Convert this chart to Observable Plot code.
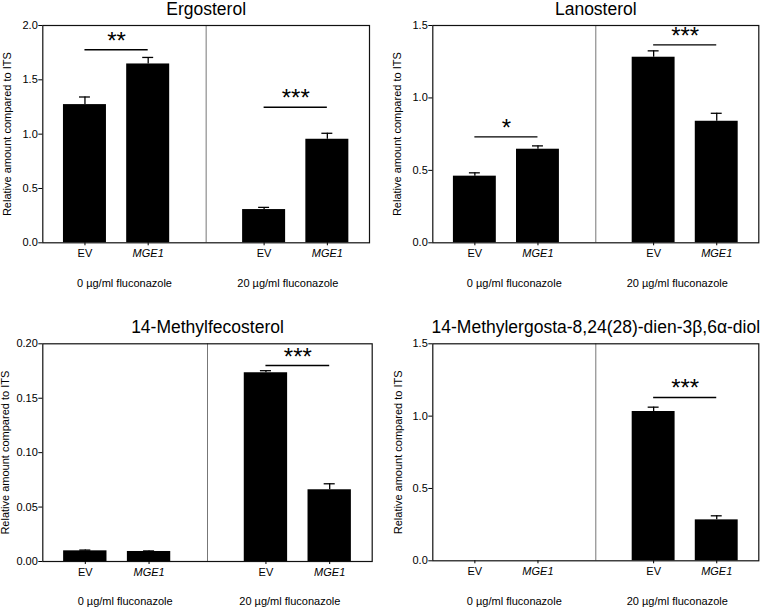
<!DOCTYPE html>
<html><head><meta charset="utf-8">
<script src="https://cdn.jsdelivr.net/npm/d3@7"></script>
<script src="https://cdn.jsdelivr.net/npm/@observablehq/plot@0.6"></script>
<style>
body{margin:0;background:#fff;}
#wrap{position:relative;width:760px;height:607px;overflow:hidden;background:#fff;}
.panel{position:absolute;}
.panel svg{overflow:visible;}
</style></head><body><div id="wrap"></div>
<script>
const conditions = ["0 µg/ml fluconazole", "20 µg/ml fluconazole"];
const strains = ["EV", "MGE1"];
const titles = ["Ergosterol", "Lanosterol", "14-Methylfecosterol", "14-Methylergosta-8,24(28)-dien-3β,6α-diol"];
const yLabel = "Relative amount compared to ITS";

// order: EV 0 µg/ml, MGE1 0 µg/ml, EV 20 µg/ml, MGE1 20 µg/ml
const ergosterolMean = [1.272, 1.646, 0.306, 0.953];
const ergosterolSem = [0.07, 0.06, 0.02, 0.055];
const lanosterolMean = [0.460, 0.646, 1.281, 0.839];
const lanosterolSem = [0.023, 0.023, 0.044, 0.055];
const methylfecosterolMean = [0.0098, 0.0092, 0.1734, 0.0659];
const methylfecosterolSem = [0.0007, 0.0005, 0.0019, 0.0055];
const diolMean = [0, 0, 1.032, 0.283];
const diolSem = [0, 0, 0.030, 0.028];

const yTicksA = [0, 0.5, 1.0, 1.5, 2.0];
const yTicksB = [0, 0.5, 1.0, 1.5];
const yTicksC = [0, 0.05, 0.10, 0.15, 0.20];

// significance bars: condition index, bar level, stars
const ergosterolSig = [{cond: 0, level: 1.777, stars: "**"}, {cond: 1, level: 1.248, stars: "***"}];
const lanosterolSig = [{cond: 0, level: 0.731, stars: "*"}, {cond: 1, level: 1.366, stars: "***"}];
const methylfecosterolSig = [{cond: 1, level: 0.180, stars: "***"}];
const diolSig = [{cond: 1, level: 1.129, stars: "***"}];

const FONT = "'Liberation Sans', Arial, Helvetica, sans-serif";
// layout in x units
const pos = (c, s) => c * 4.25 + s * 1.5 + 1;
const X_MAX = 7.75, DIVIDER = 3.875, HALF = 0.51, CAP = 0.13;

const panels = [
  {title: titles[0], mean: ergosterolMean, sem: ergosterolSem, ticks: yTicksA, fmt: ".1f", sig: ergosterolSig,
   left: 0, top: 0, w: 380, h: 300, m: [25, 11, 57.7, 42.3], lo: 39.3},
  {title: titles[1], mean: lanosterolMean, sem: lanosterolSem, ticks: yTicksB, fmt: ".1f", sig: lanosterolSig,
   left: 380, top: 0, w: 380, h: 300, m: [25, 1.7, 57.7, 52.3], lo: 39.3},
  {title: titles[2], mean: methylfecosterolMean, sem: methylfecosterolSem, ticks: yTicksC, fmt: ".2f", sig: methylfecosterolSig,
   left: 0, top: 300, w: 380, h: 307, m: [43.3, 8.3, 46, 42.3], lo: 42},
  {title: titles[3], mean: diolMean, sem: diolSem, ticks: yTicksB, fmt: ".1f", sig: diolSig,
   left: 380, top: 300, w: 380, h: 307, m: [43.3, 1.7, 46.7, 52.3], lo: 39}
];

const wrap = document.getElementById("wrap");
for (const p of panels) {
  const bars = [];
  conditions.forEach((cond, c) => strains.forEach((strain, s) => {
    const i = c * 2 + s;
    bars.push({cond, strain, c, s, x: pos(c, s), mean: p.mean[i], top: p.mean[i] + p.sem[i], sem: p.sem[i]});
  }));
  const errs = bars.filter(d => d.sem > 0);
  const sig = p.sig.map(d => ({...d, x1: pos(d.cond, 0), x2: pos(d.cond, 1), xm: (pos(d.cond, 0) + pos(d.cond, 1)) / 2}));
  const groups = conditions.map((name, c) => ({name, x: c * DIVIDER + DIVIDER / 2}));
  const ymax = p.ticks[p.ticks.length - 1];
  const chart = Plot.plot({
    width: p.w, height: p.h,
    marginTop: p.m[0], marginRight: p.m[1], marginBottom: p.m[2], marginLeft: p.m[3],
    style: {fontFamily: FONT, fontSize: "11px", color: "#000", background: "transparent"},
    x: {domain: [0, X_MAX]},
    y: {domain: [0, ymax]},
    marks: [
      Plot.rect(bars, {x1: d => d.x - HALF, x2: d => d.x + HALF, y1: 0, y2: "mean", fill: "#000"}),
      Plot.ruleX(errs, {x: "x", y1: "mean", y2: "top", stroke: "#000", strokeWidth: 1.3}),
      Plot.ruleY(errs, {x1: d => d.x - CAP, x2: d => d.x + CAP, y: "top", stroke: "#000", strokeWidth: 1.3}),
      Plot.ruleX([DIVIDER], {stroke: "#777", strokeWidth: 1}),
      Plot.ruleY(sig, {x1: "x1", x2: "x2", y: "level", stroke: "#000", strokeWidth: 1.4}),
      Plot.text(sig, {x: "xm", y: "level", text: "stars", fontSize: 24, lineAnchor: "bottom", dy: -1, fill: "#000"}),
      Plot.frame({stroke: "#111", strokeWidth: 1.2}),
      Plot.axisY({ticks: p.ticks, tickFormat: d3.format(p.fmt), tickSize: 4, tickPadding: 1,
        label: yLabel, labelAnchor: "center", labelArrow: "none", labelOffset: p.lo}),
      Plot.axisX({ticks: bars.filter(d => d.s === 0).map(d => d.x), tickFormat: () => strains[0],
        tickSize: 3, tickPadding: 3.5, label: null}),
      Plot.axisX({ticks: bars.filter(d => d.s === 1).map(d => d.x), tickFormat: () => strains[1],
        tickSize: 3, tickPadding: 3.5, label: null, fontStyle: "italic"}),
      Plot.text(groups, {x: "x", text: "name", frameAnchor: "bottom", lineAnchor: "top", dy: 36, fontSize: 11, fill: "#000"}),
      Plot.text([p.title], {frameAnchor: "top", text: d => d, lineAnchor: "bottom", dy: -11, fontSize: 17.5, fill: "#000"})
    ]
  });
  const div = document.createElement("div");
  div.className = "panel";
  div.style.left = p.left + "px";
  div.style.top = p.top + "px";
  div.appendChild(chart);
  wrap.appendChild(div);
}
</script>
</body></html>
